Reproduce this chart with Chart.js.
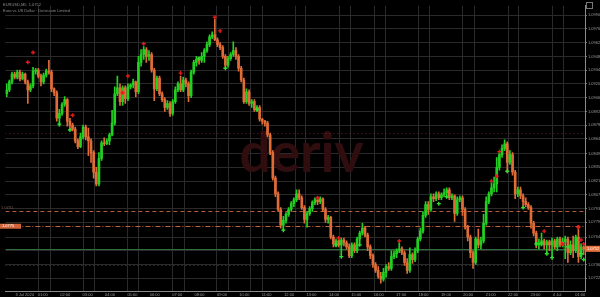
<!DOCTYPE html>
<html>
<head>
<meta charset="utf-8">
<script src="https://cdn.jsdelivr.net/npm/chart.js@4.4.1/dist/chart.umd.min.js"></script>
<style>
html,body{margin:0;padding:0;background:#000;overflow:hidden}
#wrap{width:600px;height:297px;position:relative}
canvas{display:block}
</style>
</head>
<body>
<div id="wrap"><canvas id="c" width="600" height="297"></canvas></div>
<script>
// ---- data ----
const opens = [1.0910,1.0914,1.0922,1.0930,1.0927,1.0932,1.0925,1.0930,1.0922,1.0914,
1.0918,1.0933,1.0934,1.0928,1.0922,1.0929,1.0933,1.0932,1.0915,1.0911,
1.0885,1.0890,1.0899,1.0904,1.0882,1.0878,1.0874,1.0862,1.0856,1.0866,
1.0876,1.0866,1.0862,1.0850,1.0830,1.0818,1.0844,1.0860,1.0859,1.0862,
1.0868,1.0880,1.0910,1.0916,1.0902,1.0916,1.0905,1.0917,1.0919,1.0922,
1.0912,1.0942,1.0950,1.0955,1.0948,1.0950,1.0934,1.0915,1.0926,1.0910,
1.0904,1.0896,1.0900,1.0890,1.0902,1.0914,1.0920,1.0914,1.0924,1.0920,
1.0908,1.0932,1.0942,1.0945,1.0944,1.0948,1.0954,1.0960,1.0968,1.0970,
1.0965,1.0960,1.0957,1.0948,1.0939,1.0946,1.0950,1.0954,1.0948,1.0936,
1.0924,1.0902,1.0912,1.0900,1.0902,1.0894,1.0896,1.0884,1.0882,1.0880,
1.0868,1.0850,1.0824,1.0808,1.0792,1.0776,1.0781,1.0787,1.0792,1.0798,
1.0802,1.0808,1.0804,1.0794,1.0782,1.0788,1.0793,1.0799,1.0802,1.0800,
1.0803,1.0792,1.0782,1.0784,1.0764,1.0757,1.0760,1.0756,1.0761,1.0758,
1.0754,1.0745,1.0756,1.0750,1.0762,1.0768,1.0773,1.0766,1.0754,1.0745,
1.0736,1.0730,1.0724,1.0721,1.0728,1.0734,1.0732,1.0744,1.0747,1.0750,
1.0752,1.0748,1.0738,1.0730,1.0746,1.0741,1.0750,1.0762,1.0770,1.0786,
1.0797,1.0792,1.0805,1.0803,1.0808,1.0804,1.0807,1.0809,1.0812,1.0804,
1.0806,1.0788,1.0802,1.0804,1.0792,1.0774,1.0764,1.0748,1.0738,1.0762,
1.0756,1.0760,1.0778,1.0800,1.0808,1.0814,1.0818,1.0835,1.0848,1.0854,
1.0859,1.0840,1.0848,1.0830,1.0808,1.0812,1.0806,1.0800,1.0797,1.0794,
1.0778,1.0768,1.0756,1.0758,1.0760,1.0756,1.0759,1.0756,1.0760,1.0754,
1.0762,1.0756,1.0759,1.0762,1.0748,1.0756,1.0750,1.0764,1.0744,1.0754];

const closes = [1.0914,1.0922,1.0930,1.0927,1.0932,1.0925,1.0930,1.0922,1.0914,1.0918,
1.0933,1.0934,1.0928,1.0922,1.0929,1.0933,1.0932,1.0915,1.0911,1.0885,
1.0890,1.0899,1.0904,1.0882,1.0878,1.0874,1.0862,1.0856,1.0866,1.0876,
1.0866,1.0862,1.0850,1.0830,1.0818,1.0844,1.0860,1.0859,1.0862,1.0868,
1.0880,1.0910,1.0916,1.0902,1.0916,1.0905,1.0917,1.0919,1.0922,1.0912,
1.0942,1.0950,1.0955,1.0948,1.0950,1.0934,1.0915,1.0926,1.0910,1.0904,
1.0896,1.0900,1.0890,1.0902,1.0914,1.0920,1.0914,1.0924,1.0920,1.0908,
1.0932,1.0942,1.0945,1.0944,1.0948,1.0954,1.0960,1.0968,1.0970,1.0965,
1.0960,1.0957,1.0948,1.0939,1.0946,1.0950,1.0954,1.0948,1.0936,1.0924,
1.0902,1.0912,1.0900,1.0902,1.0894,1.0896,1.0884,1.0882,1.0880,1.0868,
1.0850,1.0824,1.0808,1.0792,1.0776,1.0781,1.0787,1.0792,1.0798,1.0802,
1.0808,1.0804,1.0794,1.0782,1.0788,1.0793,1.0799,1.0802,1.0800,1.0803,
1.0792,1.0782,1.0784,1.0764,1.0757,1.0760,1.0756,1.0761,1.0758,1.0754,
1.0745,1.0756,1.0750,1.0762,1.0768,1.0773,1.0766,1.0754,1.0745,1.0736,
1.0730,1.0724,1.0721,1.0728,1.0734,1.0732,1.0744,1.0747,1.0750,1.0752,
1.0748,1.0738,1.0730,1.0746,1.0741,1.0750,1.0762,1.0770,1.0786,1.0797,
1.0792,1.0805,1.0803,1.0808,1.0804,1.0807,1.0809,1.0812,1.0804,1.0806,
1.0788,1.0802,1.0804,1.0792,1.0774,1.0764,1.0748,1.0738,1.0762,1.0756,
1.0760,1.0778,1.0800,1.0808,1.0814,1.0818,1.0835,1.0848,1.0854,1.0859,
1.0840,1.0848,1.0830,1.0808,1.0812,1.0806,1.0800,1.0797,1.0794,1.0778,
1.0768,1.0756,1.0758,1.0760,1.0756,1.0759,1.0756,1.0760,1.0754,1.0762,
1.0756,1.0759,1.0762,1.0748,1.0756,1.0750,1.0764,1.0744,1.0754,1.0752];

const highs = [1.0920,1.0924,1.0932,1.0932,1.0934,1.0934,1.0932,1.0931,1.0924,1.0920,
1.0937,1.0936,1.0936,1.0930,1.0931,1.0935,1.0944,1.0934,1.0916,1.0913,
1.0894,1.0901,1.0907,1.0905,1.0885,1.0880,1.0876,1.0864,1.0870,1.0878,
1.0878,1.0875,1.0864,1.0852,1.0835,1.0850,1.0862,1.0865,1.0864,1.0870,
1.0893,1.0917,1.0928,1.0920,1.0918,1.0918,1.0920,1.0920,1.0925,1.0923,
1.0948,1.0955,1.0958,1.0957,1.0954,1.0952,1.0936,1.0928,1.0928,1.0912,
1.0906,1.0903,1.0902,1.0904,1.0917,1.0922,1.0928,1.0927,1.0926,1.0922,
1.0934,1.0944,1.0948,1.0947,1.0952,1.0956,1.0963,1.0970,1.0973,1.0986,
1.0967,1.0962,1.0959,1.0950,1.0948,1.0952,1.0963,1.0957,1.0950,1.0938,
1.0926,1.0915,1.0914,1.0904,1.0904,1.0898,1.0898,1.0885,1.0883,1.0882,
1.0870,1.0852,1.0826,1.0810,1.0794,1.0785,1.0789,1.0794,1.0800,1.0804,
1.0812,1.0812,1.0806,1.0796,1.0790,1.0795,1.0801,1.0804,1.0805,1.0805,
1.0804,1.0794,1.0786,1.0785,1.0766,1.0762,1.0762,1.0763,1.0763,1.0760,
1.0757,1.0758,1.0758,1.0764,1.0770,1.0778,1.0775,1.0768,1.0756,1.0747,
1.0738,1.0734,1.0728,1.0732,1.0736,1.0738,1.0750,1.0750,1.0752,1.0758,
1.0754,1.0750,1.0742,1.0753,1.0748,1.0753,1.0764,1.0773,1.0790,1.0800,
1.0800,1.0808,1.0808,1.0810,1.0810,1.0809,1.0813,1.0814,1.0814,1.0808,
1.0807,1.0805,1.0806,1.0806,1.0794,1.0776,1.0766,1.0750,1.0764,1.0772,
1.0764,1.0787,1.0805,1.0810,1.0820,1.0825,1.0845,1.0851,1.0858,1.0863,
1.0861,1.0852,1.0850,1.0832,1.0815,1.0815,1.0808,1.0804,1.0799,1.0796,
1.0780,1.0770,1.0762,1.0768,1.0762,1.0761,1.0761,1.0763,1.0762,1.0764,
1.0764,1.0763,1.0765,1.0764,1.0760,1.0765,1.0766,1.0776,1.0757,1.0757];

const lows = [1.0907,1.0912,1.0920,1.0925,1.0925,1.0923,1.0924,1.0920,1.0900,1.0912,
1.0916,1.0930,1.0926,1.0918,1.0920,1.0927,1.0930,1.0912,1.0908,1.0882,
1.0877,1.0888,1.0897,1.0877,1.0874,1.0872,1.0860,1.0854,1.0855,1.0864,
1.0863,1.0847,1.0840,1.0824,1.0816,1.0816,1.0842,1.0857,1.0858,1.0858,
1.0867,1.0878,1.0908,1.0898,1.0898,1.0900,1.0903,1.0915,1.0916,1.0907,
1.0910,1.0938,1.0945,1.0942,1.0944,1.0932,1.0903,1.0913,1.0908,1.0902,
1.0892,1.0894,1.0887,1.0888,1.0900,1.0912,1.0912,1.0912,1.0917,1.0902,
1.0906,1.0930,1.0938,1.0940,1.0942,1.0942,1.0952,1.0958,1.0966,1.0964,
1.0958,1.0955,1.0946,1.0936,1.0937,1.0944,1.0948,1.0945,1.0933,1.0922,
1.0900,1.0900,1.0898,1.0896,1.0892,1.0892,1.0882,1.0879,1.0877,1.0866,
1.0848,1.0822,1.0805,1.0790,1.0773,1.0771,1.0778,1.0785,1.0790,1.0795,
1.0800,1.0802,1.0792,1.0778,1.0774,1.0786,1.0790,1.0797,1.0797,1.0798,
1.0790,1.0779,1.0778,1.0762,1.0754,1.0754,1.0754,1.0746,1.0755,1.0752,
1.0743,1.0743,1.0748,1.0748,1.0758,1.0766,1.0764,1.0750,1.0742,1.0733,
1.0728,1.0722,1.0717,1.0719,1.0723,1.0730,1.0730,1.0742,1.0743,1.0748,
1.0746,1.0735,1.0727,1.0728,1.0737,1.0739,1.0748,1.0760,1.0768,1.0784,
1.0787,1.0790,1.0800,1.0801,1.0802,1.0802,1.0805,1.0804,1.0802,1.0802,
1.0780,1.0786,1.0800,1.0786,1.0772,1.0760,1.0743,1.0732,1.0736,1.0753,
1.0752,1.0758,1.0776,1.0798,1.0806,1.0810,1.0810,1.0832,1.0845,1.0852,
1.0830,1.0838,1.0827,1.0803,1.0805,1.0803,1.0794,1.0795,1.0792,1.0773,
1.0765,1.0753,1.0752,1.0755,1.0752,1.0747,1.0750,1.0743,1.0752,1.0750,
1.0754,1.0754,1.0742,1.0738,1.0746,1.0743,1.0748,1.0738,1.0742,1.0746];

// signal markers: candle index and price
const upSignalIdx   = [8,10,25,44,46,52,66,79,81,118,126,149,184,186,187,204,211,217,218,219];
const upSignalPrice = [1.0942,1.0952,1.0888,1.0911,1.0928,1.0961,1.0931,1.0988,1.0974,1.0804,1.0763,1.0760,1.0821,1.0826,1.0851,1.0770,1.0757,1.0774,1.0761,1.0757];
const dnSignalIdx   = [20,24,73,83,95,105,125,127,134,164,167,190,196,201,203,205,207,213,218,219];
const dnSignalPrice = [1.0879,1.0873,1.0946,1.0936,1.0894,1.0771,1.0756,1.0744,1.0756,1.0798,1.0805,1.0831,1.0794,1.0757,1.0757,1.0747,1.0743,1.0754,1.0747,1.0741];

// axes
const yTickValues = [1.0990,1.0976,1.0962,1.0948,1.0934,1.0920,1.0906,1.0892,1.0878,1.0864,1.0849,1.0835,1.0821,1.0807,1.0793,1.0779,1.0764,1.0750,1.0736,1.0722];
const xTickPositions = [3.3,11.8,20.3,28.8,37.3,45.8,54.3,62.8,71.3,79.8,88.3,96.8,105.3,113.8,122.3,130.8,139.3,147.8,156.3,164.8,173.3,181.8,190.3,198.8,207.3,215.8];
const xTickLabels = ["3 Jul 2024","01:00","02:00","03:00","04:00","05:00","06:00","07:00","08:00","09:00","10:00","11:00","12:00","13:00","14:00","15:00","16:00","17:00","18:00","19:00","20:00","21:00","22:00","23:00","4 Jul","01:00"];
const xGridPositions = [11.9,16.4,28.8,33.0,45.7,49.9,62.7,67.2,79.6,84.1,92.4,96.9,109.3,113.4,126.2,130.3,139.3,143.5,156.3,160.4,172.8,177.3,190.1,194.2,207.0,211.2];

// horizontal levels
const levelPrices = [1.0870, 1.0791, 1.0775, 1.0752, 1.0735];
const levelColors = ['#6e2222', '#b85a3c', '#c0603f', '#2f6d3c', '#45504a'];
const levelDashes = [[1,3], [4,3], [5,2,1,2], [], [1,3]];

const titleLines = ["EURUSD,M5  1.0752", "Euro vs US Dollar · Deriv.com Limited"];
const watermark = "deriv";

// ---- build ----
const N = closes.length;
const BULL = '#22d022', BEAR = '#e06c38';
const colors = opens.map((o, i) => closes[i] >= o ? BULL : BEAR);
const wickData = lows.map((l, i) => ({x: i, y: [l, highs[i]]}));
const bodyData = opens.map((o, i) => ({x: i, y: [o, closes[i]]}));
const upData = upSignalIdx.map((x, i) => ({x, y: upSignalPrice[i]}));
const dnData = dnSignalIdx.map((x, i) => ({x, y: dnSignalPrice[i]}));

const deco = {
  id: 'deco',
  beforeDraw(chart) {
    const c = chart.ctx;
    c.save(); c.fillStyle = '#000'; c.fillRect(0, 0, chart.width, chart.height); c.restore();
  },
  beforeDatasetsDraw(chart) {
    const c = chart.ctx, a = chart.chartArea, xs = chart.scales.x, ys = chart.scales.y;
    c.save();
    c.beginPath(); c.rect(a.left, a.top, a.right - a.left, a.bottom - a.top); c.clip();
    c.strokeStyle = '#2a2a2a'; c.lineWidth = 1;
    xGridPositions.forEach(v => {
      const px = Math.round(xs.getPixelForValue(v)) + 0.5;
      c.beginPath(); c.moveTo(px, a.top); c.lineTo(px, a.bottom); c.stroke();
    });
    // watermark
    c.font = 'bold 55px Lato';
    c.fillStyle = '#300e10';
    c.textAlign = 'center'; c.textBaseline = 'alphabetic';
    c.fillText(watermark, a.left + (a.right - a.left) * 0.511, a.top + (a.bottom - a.top) * 0.585);
    // level lines
    levelPrices.forEach((p, i) => {
      const py = Math.round(ys.getPixelForValue(p)) + 0.5;
      c.strokeStyle = levelColors[i]; c.setLineDash(levelDashes[i]); c.lineWidth = 1;
      c.beginPath(); c.moveTo(a.left, py); c.lineTo(a.right, py); c.stroke();
    });
    c.setLineDash([]);
    c.restore();
  },
  afterDraw(chart) {
    const c = chart.ctx, a = chart.chartArea, ys = chart.scales.y;
    c.save();
    c.font = '4px "Liberation Sans"';
    c.textBaseline = 'middle'; c.textAlign = 'left';
    // title
    c.fillStyle = '#8c8c8c';
    c.fillText(titleLines[0], 3, 5);
    c.fillText(titleLines[1], 3, 10.5);
    // left level labels
    const y1 = ys.getPixelForValue(levelPrices[1]);
    c.fillStyle = '#7a5a50';
    c.fillText(levelPrices[1].toFixed(4), 1, y1 - 2.5);
    const y2 = ys.getPixelForValue(levelPrices[2]);
    c.fillStyle = '#d2643c'; c.fillRect(0, y2 - 2.5, 21, 5);
    c.fillStyle = '#ffffff'; c.fillText(levelPrices[2].toFixed(4), 2, y2);
    // last price box
    const last = closes[N - 1];
    const yl = ys.getPixelForValue(last);
    c.fillStyle = '#e4703c'; c.fillRect(a.right, yl - 3, chart.width - a.right, 6);
    c.fillStyle = '#ffffff'; c.fillText(last.toFixed(4), a.right + 2, yl);
    // small corner box
    c.strokeStyle = '#777'; c.lineWidth = 1;
    c.strokeRect(586.5, 2.5, 6, 6);
    c.restore();
  }
};

new Chart(document.getElementById('c'), {
  type: 'bar',
  data: {
    datasets: [
      {type: 'scatter', data: upData, pointStyle: 'cross', radius: 2, borderColor: '#e31a1a', backgroundColor: '#e31a1a', borderWidth: 1.4, order: 0},
      {type: 'scatter', data: dnData, pointStyle: 'cross', radius: 2, borderColor: '#2ee02e', backgroundColor: '#2ee02e', borderWidth: 1.4, order: 0},
      {type: 'bar', data: bodyData, backgroundColor: colors, grouped: false, barPercentage: 1, categoryPercentage: 1, maxBarThickness: 2, minBarLength: 1, borderWidth: 0, order: 1},
      {type: 'bar', data: wickData, backgroundColor: colors, grouped: false, barPercentage: 1, categoryPercentage: 1, maxBarThickness: 1, borderWidth: 0, order: 2}
    ]
  },
  options: {
    responsive: false,
    animation: false,
    devicePixelRatio: 1,
    events: [],
    layout: {padding: 0},
    plugins: {legend: {display: false}, tooltip: {enabled: false}},
    scales: {
      x: {
        type: 'linear', min: -0.5, max: N - 0.5, offset: false,
        grid: {display: true, drawOnChartArea: false, drawTicks: false},
        border: {display: true, color: '#8a8a8a', width: 1},
        afterBuildTicks: s => { s.ticks = xTickPositions.map(v => ({value: v})); },
        afterFit: s => { s.height = 6; s.paddingLeft = 0; s.paddingRight = 0; },
        ticks: {
          autoSkip: false, maxRotation: 0, minRotation: 0, align: 'start', padding: 1,
          color: '#9a9a9a', font: {size: 4, family: 'Liberation Sans'},
          callback: (v, i) => xTickLabels[i]
        }
      },
      y: {
        type: 'linear', position: 'right', min: 1.0709, max: 1.1000,
        grid: {color: '#2a2a2a', tickColor: '#777', tickLength: 2, drawTicks: true},
        border: {display: true, color: '#8a8a8a', width: 1},
        afterBuildTicks: s => { s.ticks = yTickValues.map(v => ({value: v})); },
        afterFit: s => { s.width = 15; s.paddingTop = 0; s.paddingBottom = 0; },
        ticks: {
          autoSkip: false, padding: 1, color: '#9a9a9a',
          font: {size: 4, family: 'Liberation Sans'},
          callback: v => v.toFixed(4)
        }
      }
    }
  },
  plugins: [deco]
});
</script>
</body>
</html>
